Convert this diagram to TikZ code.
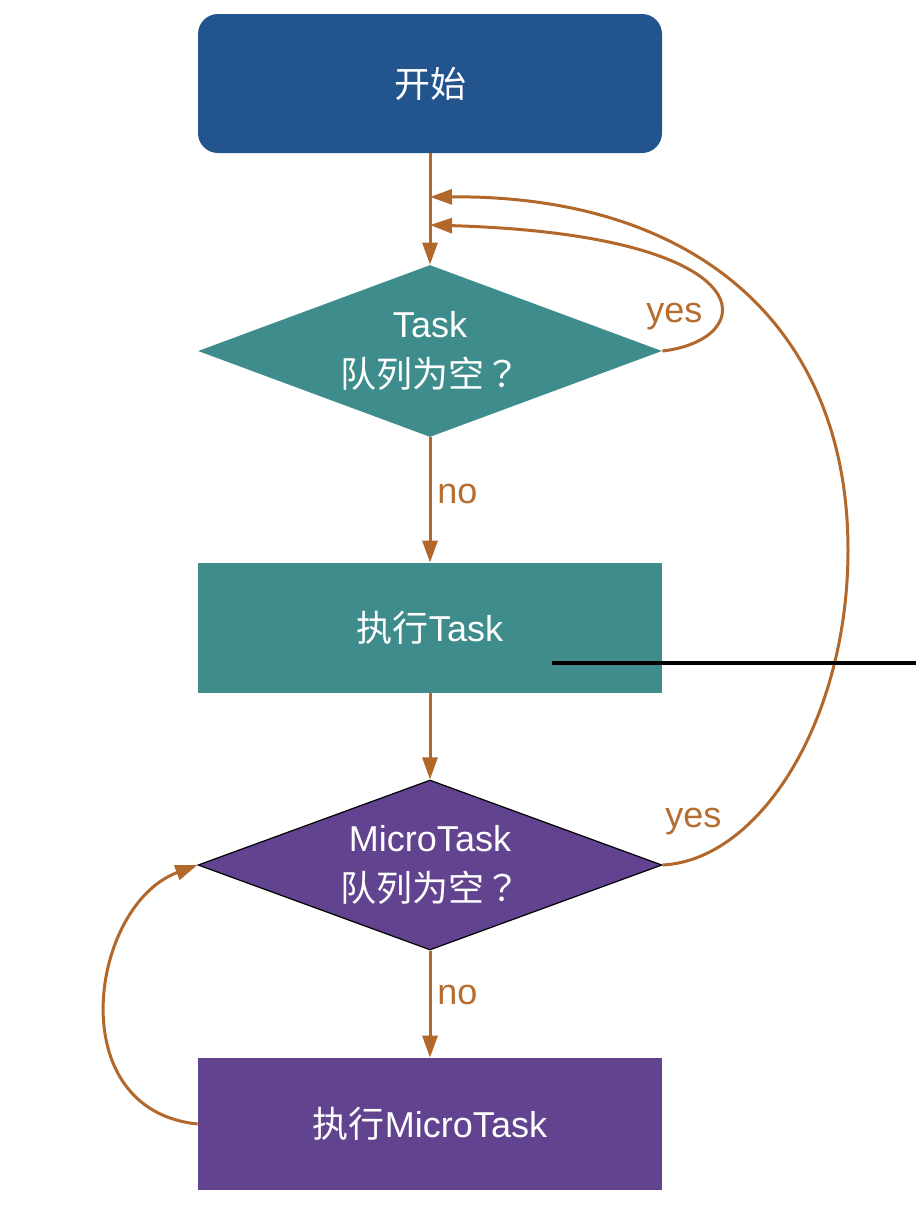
\documentclass[tikz,border=0pt]{standalone}
\usepackage{fontspec}
\setmainfont{Liberation Sans}
\newfontfamily\cjk{Noto Sans CJK SC}
\newfontfamily\cjkq{Noto Sans CJK TC}
\usetikzlibrary{shapes.geometric,arrows.meta}
\definecolor{startblue}{HTML}{22548E}
\definecolor{taskteal}{HTML}{3E8C8C}
\definecolor{micropurple}{HTML}{61438F}
\definecolor{flow}{HTML}{B2672B}
\definecolor{flowtext}{HTML}{B56D30}
\tikzset{
  box/.style={rectangle, minimum width=232pt, inner sep=0pt, text=white, align=center,
    font=\fontsize{18}{24}\selectfont},
  dia/.style={diamond, shape aspect=2.7, minimum width=232pt, inner sep=0pt, text=white, align=center,
    font=\fontsize{18}{24}\selectfont},
  arr/.style={draw=flow, line width=1.5pt, -{Triangle[length=11pt,width=7.5pt]}},
  lbl/.style={text=flowtext, anchor=base west, inner sep=0pt, font=\fontsize{18}{22}\selectfont}
}
\begin{document}
\begin{tikzpicture}[x=0.5pt,y=-0.5pt]
\useasboundingbox[fill=white] (0,0) rectangle (916,1228);

\node[box, fill=startblue, minimum height=69.5pt, rounded corners=10pt] (start) at (430,83.5) {\cjk 开始};
\node[dia, fill=taskteal, minimum height=86pt] (d1) at (430,351) {Task\\[1pt]{\cjk 队列为空\cjkq ？}};
\node[box, fill=taskteal, minimum height=65pt] (b2) at (430,628) {{\cjk 执行}Task};
\node[dia, fill=micropurple, draw=black, line width=0.6pt, minimum height=85pt] (d2) at (430,865) {MicroTask\\[1pt]{\cjk 队列为空\cjkq ？}};
\node[box, fill=micropurple, minimum height=66pt] (b3) at (430,1124) {{\cjk 执行}MicroTask};

\coordinate (j1) at (430,197);
\coordinate (j2) at (430,225);
\coordinate (k1) at (552,663);
\coordinate (k2) at (916,663);

\draw[arr] (start.south) -- (d1.north);
\draw[arr] (d1.east) .. controls (760,340) and (770,235) .. (j2);
\draw[arr] (d2.east) .. controls (760,860) and (848,720) .. (848,550)
  .. controls (848,330) and (700,195) .. (j1);
\draw[arr] (d1.south) -- (b2.north);
\draw[arr] (b2.south) -- (d2.north);
\draw[arr] (d2.south) -- (b3.north);
\draw[arr] (b3.west) .. controls (60,1110) and (90,905) .. (d2.west);

\draw[black, line width=2pt] (k1) -- (k2);

\node[lbl] (no1) at (437,503) {no};
\node[lbl] (no2) at (437,1004) {no};
\node[lbl] (yes1) at (646,322) {yes};
\node[lbl] (yes2) at (665,827) {yes};
\end{tikzpicture}
\end{document}
